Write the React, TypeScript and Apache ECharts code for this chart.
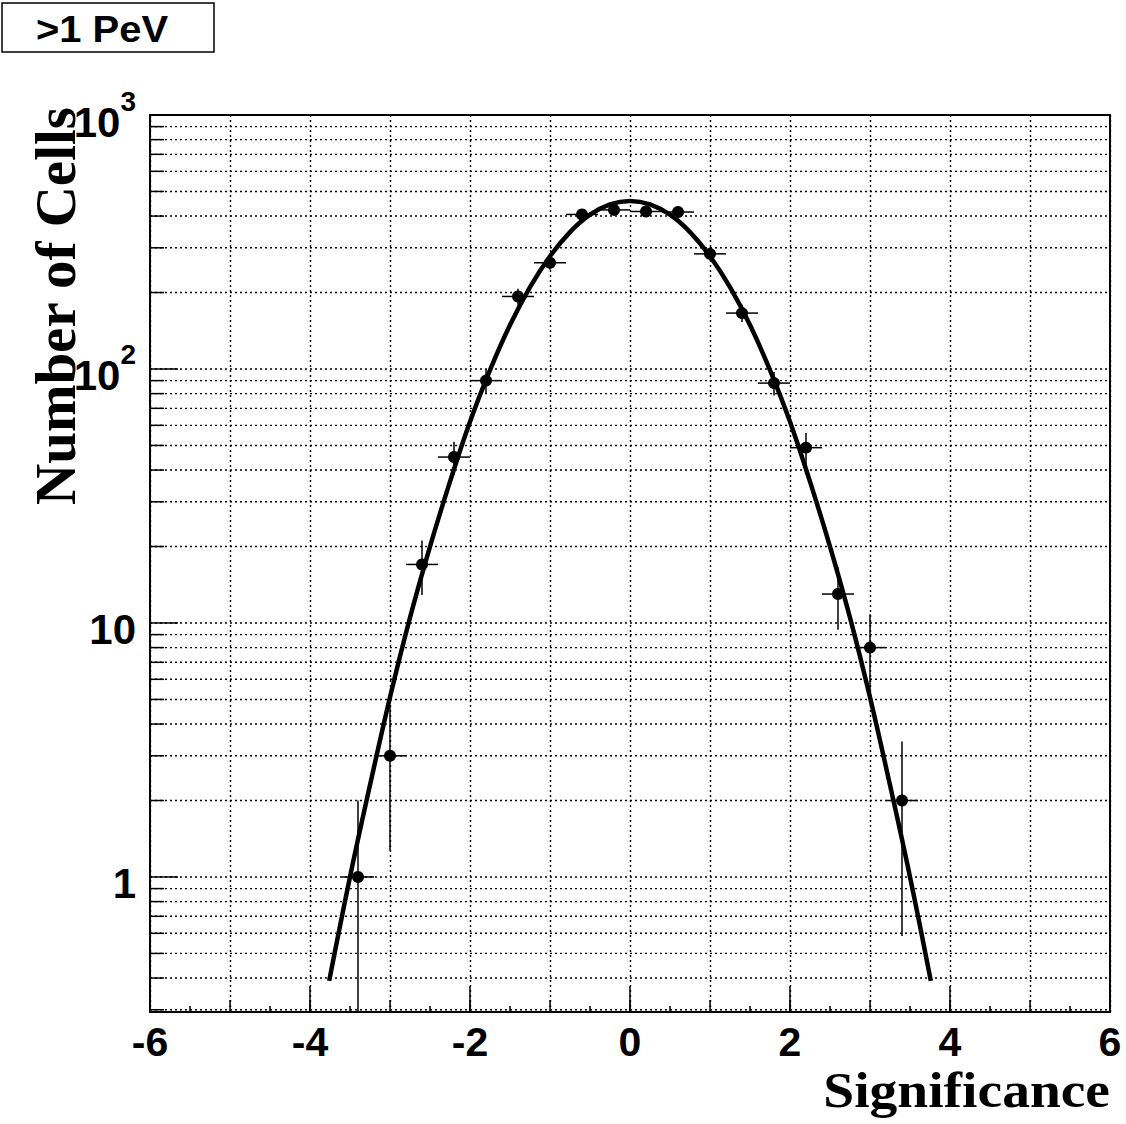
import React, { useEffect, useRef } from 'react';
import * as echarts from 'echarts';

// ---- data ----
const binCenters = [-3.4, -3.0, -2.6, -2.2, -1.8, -1.4, -1.0, -0.6, -0.2, 0.2, 0.6, 1.0, 1.4, 1.8, 2.2, 2.6, 3.0, 3.4];
const cellCounts = [1, 3, 17, 45, 90, 193, 262, 406, 423, 417, 415, 284, 166, 88, 49, 13, 8, 2];
const binHalfWidth = 0.2;

// fitted curve, values
const fitX = [-3.76, -3.5, -3.25, -3.0, -2.75, -2.5, -2.25, -2.0, -1.75, -1.5, -1.25, -1.0, -0.75, -0.5, -0.25, 0, 0.25, 0.5, 0.75, 1.0, 1.25, 1.5, 1.75, 2.0, 2.25, 2.5, 2.75, 3.0, 3.25, 3.5, 3.76];
const fitY = [0.39, 1.0, 2.3, 5.1, 10.5, 20, 36, 62, 99, 149, 210, 278, 346, 405, 445, 459, 445, 405, 346, 278, 210, 149, 99, 62, 36, 20, 10.5, 5.1, 2.3, 1.0, 0.39];

// log grid lines / ticks
const yGridLines = [
  0.3, 0.4, 0.5, 0.6, 0.7, 0.8, 0.9,
  1, 2, 3, 4, 5, 6, 7, 8, 9,
  10, 20, 30, 40, 50, 60, 70, 80, 90,
  100, 200, 300, 400, 500, 600, 700, 800, 900,
  1000,
];
const yDecades = [1, 10, 100, 1000];
const xTickLabels = ['-6', '-4', '-2', '0', '2', '4', '6'];

const X_MIN = -6;
const X_MAX = 6;
const Y_MIN = 0.294;
const Y_MAX = 1000;

const labelText = '>1 PeV';
const xTitle = 'Significance';
const yTitle = 'Number of Cells';

export default function App() {
  const ref = useRef<HTMLDivElement>(null);

  useEffect(() => {
    const chart = echarts.init(ref.current!, null, { renderer: 'svg' });
    const sans = "'Liberation Sans', Arial, Helvetica, sans-serif";
    const serif = "'Liberation Serif', 'Times New Roman', Times, serif";

    const gridData = yGridLines.map((v) => [X_MIN, v, yDecades.includes(v) ? 1 : 0]);
    const errData = binCenters.map((x, i) => {
      const n = cellCounts[i];
      const e = Math.sqrt(n);
      return [x, n, Math.max(n - e, Y_MIN), n + e];
    });

    const option: any = {
      animation: false,
      backgroundColor: '#fff',
      grid: {
        left: 150,
        right: 16,
        top: 115,
        bottom: 112,
        show: true,
        borderColor: '#000',
        borderWidth: 2,
        backgroundColor: 'transparent',
      },
      xAxis: [
        {
          type: 'value',
          min: X_MIN,
          max: X_MAX,
          interval: 1,
          position: 'bottom',
          axisLine: { show: false },
          axisTick: { show: true, inside: true, length: 12, lineStyle: { color: '#000', width: 1.5 } },
          minorTick: { show: true, splitNumber: 2, length: 6, lineStyle: { color: '#000', width: 1.5 } },
          splitLine: { show: true, lineStyle: { color: '#000', width: 1.4, type: [2, 3] } },
          axisLabel: {
            show: true,
            showMinLabel: true,
            showMaxLabel: true,
            margin: 14,
            color: '#000',
            fontFamily: sans,
            fontWeight: 'bold',
            fontSize: 41,
            lineHeight: 32,
            formatter: (v: number) => {
              const s = String(Math.round(v));
              return xTickLabels.includes(s) ? s : '';
            },
          },
        },
        {
          type: 'value',
          min: X_MIN,
          max: X_MAX,
          interval: 2,
          position: 'bottom',
          axisLine: { show: false },
          axisTick: { show: true, inside: true, length: 26, lineStyle: { color: '#000', width: 1.5 } },
          axisLabel: { show: false },
          splitLine: { show: false },
        },
      ],
      yAxis: {
        type: 'log',
        logBase: 10,
        min: Y_MIN,
        max: Y_MAX,
        axisLine: { show: false },
        axisTick: { show: false },
        splitLine: { show: false },
        axisLabel: {
          margin: 14,
          color: '#000',
          formatter: (v: number) => {
            const l = Math.log10(v);
            const p = Math.round(l);
            if (Math.abs(l - p) > 1e-6) return '';
            if (p === 0) return '{b|1}';
            if (p === 1) return '{b|10}';
            return `{b|10}{s|${p}}`;
          },
          rich: {
            b: { fontSize: 42, fontWeight: 'bold', fontFamily: sans, color: '#000', lineHeight: 56, verticalAlign: 'bottom' },
            s: { fontSize: 28, fontWeight: 'bold', fontFamily: sans, color: '#000', lineHeight: 28, verticalAlign: 'top' },
          },
        },
      },
      series: [
        {
          type: 'custom',
          name: 'ygrid',
          silent: true,
          xAxisIndex: 0,
          z: 1,
          data: gridData,
          renderItem: (params: any, api: any) => {
            const cs = params.coordSys;
            const y = api.coord([X_MIN, api.value(1)])[1];
            const major = api.value(2) === 1;
            return {
              type: 'group',
              children: [
                { type: 'line', shape: { x1: cs.x, y1: y, x2: cs.x + cs.width, y2: y }, style: { stroke: '#000', lineWidth: 1.4, lineDash: [2, 3] } },
                { type: 'line', shape: { x1: cs.x, y1: y, x2: cs.x + (major ? 28 : 14), y2: y }, style: { stroke: '#000', lineWidth: 1.5 } },
              ],
            };
          },
        },
        {
          type: 'custom',
          name: 'errors',
          silent: true,
          xAxisIndex: 0,
          z: 3,
          data: errData,
          renderItem: (params: any, api: any) => {
            const cs = params.coordSys;
            const x = api.value(0);
            const n = api.value(1);
            const lo = api.value(2);
            const hi = api.value(3);
            const l = api.coord([x - binHalfWidth, n]);
            const r = api.coord([x + binHalfWidth, n]);
            const pLo = api.coord([x, lo]);
            const pHi = api.coord([x, hi]);
            const bottom = Math.min(pLo[1], cs.y + cs.height);
            return {
              type: 'group',
              children: [
                { type: 'line', shape: { x1: l[0], y1: l[1], x2: r[0], y2: r[1] }, style: { stroke: '#000', lineWidth: 1.5 } },
                { type: 'line', shape: { x1: pHi[0], y1: pHi[1], x2: pHi[0], y2: bottom }, style: { stroke: '#000', lineWidth: 1.5 } },
              ],
            };
          },
        },
        {
          type: 'scatter',
          name: 'counts',
          xAxisIndex: 0,
          z: 4,
          symbol: 'circle',
          symbolSize: 12,
          itemStyle: { color: '#000', opacity: 1 },
          data: binCenters.map((x, i) => [x, cellCounts[i]]),
        },
        {
          type: 'line',
          name: 'fit',
          xAxisIndex: 0,
          z: 5,
          showSymbol: false,
          smooth: 0.4,
          lineStyle: { color: '#000', width: 4.5 },
          data: fitX.map((x, i) => [x, fitY[i]]),
        },
      ],
      graphic: [
        {
          type: 'rect',
          shape: { x: 2, y: 3, width: 212, height: 49 },
          style: { fill: '#fff', stroke: '#000', lineWidth: 1.5 },
        },
        {
          type: 'text',
          x: 102,
          y: 29,
          scaleX: 1.08,
          style: {
            text: labelText,
            font: `bold 37px ${sans}`,
            fill: '#000',
            align: 'center',
            verticalAlign: 'middle',
            textAlign: 'center',
            textVerticalAlign: 'middle',
          },
        },
        {
          type: 'text',
          x: 1110,
          y: 1090,
          scaleX: 1.11,
          style: {
            text: xTitle,
            font: `bold 50px ${serif}`,
            lineHeight: 36,
            fill: '#000',
            align: 'right',
            verticalAlign: 'middle',
            textAlign: 'right',
            textVerticalAlign: 'middle',
          },
        },
        {
          type: 'text',
          x: 55,
          y: 107,
          rotation: Math.PI / 2,
          style: {
            text: yTitle,
            font: `bold 57px ${serif}`,
            fill: '#000',
            align: 'right',
            verticalAlign: 'middle',
            textAlign: 'right',
            textVerticalAlign: 'middle',
          },
        },
      ],
    };

    chart.setOption(option);
    return () => chart.dispose();
  }, []);

  return <div ref={ref} style={{ position: 'absolute', left: 0, top: 0, width: 1126, height: 1124 }} />;
}
